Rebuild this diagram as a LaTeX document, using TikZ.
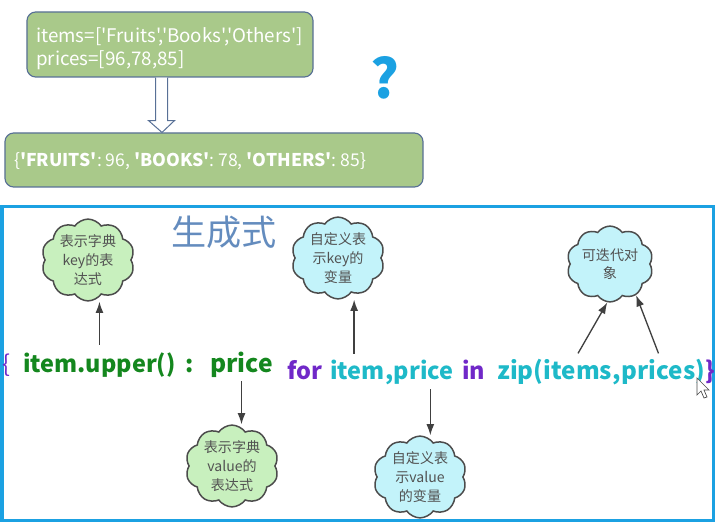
\documentclass[tikz,border=0pt]{standalone}
\usepackage{fontspec}
\setmainfont{Noto Sans CJK SC}[Ligatures=TeXOff]
\usetikzlibrary{shapes,arrows,positioning,calc,arrows.meta}
\definecolor{boxgreen}{RGB}{169,201,138}
\definecolor{boxedge}{RGB}{88,112,150}
\definecolor{framecolor}{RGB}{27,161,226}
\definecolor{titleblue}{RGB}{100,140,190}
\definecolor{codegreen}{RGB}{20,135,30}
\definecolor{codepurple}{RGB}{112,40,200}
\definecolor{codecyan}{RGB}{30,185,200}
\definecolor{cloudgreen}{RGB}{200,240,190}
\definecolor{cloudcyan}{RGB}{195,243,250}

\begin{document}
\begin{tikzpicture}[
    x=0.3mm, y=-0.3mm,
    databox/.style={rectangle, rounded corners=2.6mm, draw=boxedge, line width=0.35mm, fill=boxgreen},
    boxtext/.style={text=white, align=left, inner sep=0pt, anchor=base west, font=\fontsize{16}{19.6}\selectfont},
    code/.style={inner sep=0pt, anchor=base west, font=\bfseries\fontsize{20}{20}\selectfont},
    itercode/.style={code, font=\bfseries\fontsize{20.6}{20.6}\selectfont},
    note/.style={cloud, cloud puffs=10, cloud puff arc=110, aspect=1.2, draw=black!70, line width=0.45mm, inner sep=0pt, minimum width=24mm, minimum height=19.5mm, align=center, text=black!68, font=\fontsize{12}{16}\selectfont},
    keynote/.style={note, fill=cloudgreen},
    varnote/.style={note, fill=cloudcyan},
    pointer/.style={-{Latex[length=3.4mm, width=2.4mm]}, line width=0.4mm, black!75}
]
\useasboundingbox (0,0) rectangle (715,522);

% Input lists and resulting dict
\node[databox, minimum width=85.8mm, minimum height=19.5mm] (inbox) at (170,44.5) {};
\node[boxtext, text width=80mm] (intext) at (36,43)
    {items=['Fruits','Books','Others']\\prices=[96,78,85]};
\node[databox, minimum width=125.4mm, minimum height=16.2mm] (outbox) at (214,160) {};
\node[boxtext, font=\fontsize{15}{18}\selectfont] (outtext) at (14,167)
    {\{\textbf{'FRUITS'}: 96, \textbf{'BOOKS'}: 78, \textbf{'OTHERS'}: 85\}};

% Hollow arrow between the boxes
\coordinate (shaft) at ($(inbox.south)+(-8.5,0)$);
\draw[boxedge, line width=0.3mm, fill=white]
    ($(shaft)+(-6,0)$) -- ++(0,43) -- ++(-7,0) -- ($(outbox.north)+(-52,0)$)
    -- ($(shaft)+(13,43)$) -- ++(-7,0) -- ($(shaft)+(6,0)$);

\node[text=framecolor, font=\bfseries\fontsize{46}{46}\selectfont] (question) at (385,78) {?};

% Frame around the comprehension
\draw[framecolor, line width=0.9mm] (2,207) rectangle (713,520);
\node[text=titleblue, font=\fontsize{30}{30}\selectfont] (title) at (224,232) {生成式};

% Dict comprehension, word by word
\node[code, text=codepurple, font=\fontsize{20}{20}\selectfont] (lbrace) at (2,372) {\{};
\node[code, text=codegreen] (keyexpr) at (23,372) {item.upper()};
\node[code, text=codegreen] (colon) at (185,372) {:};
\node[code, text=codegreen, font=\bfseries\fontsize{21}{21}\selectfont] (valexpr) at (210,372) {price};
\node[code, text=codepurple] (kwfor) at (287,379) {for};
\node[code, text=codecyan] (keyvar) at (330,379) {item};
\node[code, text=codecyan] (keyvarsep) at (keyvar.base east) {,};
\node[code, text=codecyan] (valvar) at (keyvarsep.base east) {price};
\node[code, text=codepurple] (kwin) at (462,379) {in};
\node[itercode, text=codecyan] (zipopen) at (497,379) {zip(};
\node[itercode, text=codecyan] (listitems) at (zipopen.base east) {items};
\node[itercode, text=codecyan] (comma) at (listitems.base east) {,};
\node[itercode, text=codecyan] (listprices) at (comma.base east) {prices};
\node[itercode, text=codecyan] (zipclose) at (listprices.base east) {)};
\node[itercode, text=codepurple] (rbrace) at (zipclose.base east) {\}};

% Clouds
\node[keynote] (keynote) at (88,260) {表示字典\\key的表\\达式};
\node[keynote] (valnote) at (232,466) {表示字典\\value的\\表达式};
\node[varnote] (keyvarnote) at (338,258) {自定义表\\示key的\\变量};
\node[varnote] (valvarnote) at (420,477) {自定义表\\示value\\的变量};
\node[varnote] (iternote) at (610,264) {可迭代对\\象};

% Pointers
\draw[pointer] ([yshift=2.2mm]keyexpr.north) -- (keyexpr.north |- keynote.south);
\draw[pointer] ([yshift=-1.2mm]valexpr.south) -- (valexpr.south |- valnote.north);
\draw[pointer] ([xshift=-1mm, yshift=1.6mm]keyvar.north) -- ([xshift=-1mm]keyvar.north |- keyvarnote.south);
\draw[pointer] ([xshift=2mm, yshift=-1.5mm]valvar.south) -- ([xshift=2mm]valvar.south |- valvarnote.north);
\draw[pointer] ([yshift=1.6mm]listitems.north) -- (iternote.266);
\draw[pointer] ([yshift=1.6mm]listprices.north) -- (iternote.310);

% Mouse cursor
\draw[black!70, fill=white, line width=0.2mm] (697,378) -- ++(0,17) -- ++(4,-4) -- ++(3,7)
    -- ++(3,-1) -- ++(-3,-7) -- ++(5,0) -- cycle;
\end{tikzpicture}
\end{document}
